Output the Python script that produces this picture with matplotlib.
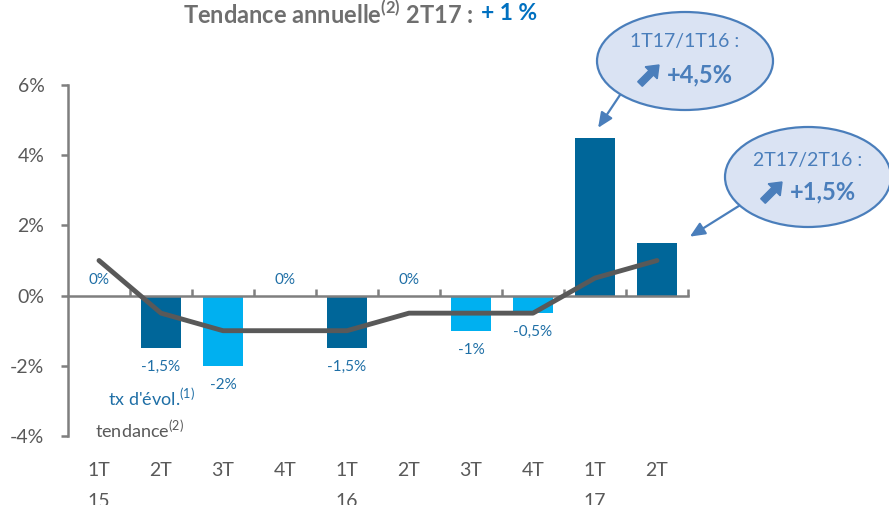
import matplotlib
matplotlib.use("Agg")
import matplotlib.pyplot as plt
from matplotlib.patches import Ellipse, FancyArrow

plt.rcParams['font.family'] = ['Lato', 'DejaVu Sans']
plt.rcParams['mathtext.fontset'] = 'custom'
plt.rcParams['mathtext.rm'] = 'Lato'
plt.rcParams['mathtext.bf'] = 'Lato:bold'

# données
quarters = ["1T\n15", "2T", "3T", "4T", "1T\n16", "2T", "3T", "4T", "1T\n17", "2T"]
evol = [0, -1.5, -2, 0, -1.5, 0, -1, -0.5, 4.5, 1.5]
tendance = [1, -0.5, -1, -1, -1, -0.5, -0.5, -0.5, 0.5, 1]
yticks = [-4, -2, 0, 2, 4, 6]

DARK = '#006699'
LIGHT = '#00b0f0'
GREY = '#595959'
AXGREY = '#7f7f7f'
LBL = '#1f6fa6'
CALL = '#4a7ebb'

fig = plt.figure(figsize=(8.89, 5.05), dpi=100)
W, H = 889.0, 505.0
ax = fig.add_axes([68 / W, 1 - 436 / H, 620 / W, 351 / H])

x = list(range(len(evol)))
colors = [DARK if q.startswith(("1T", "2T")) else LIGHT for q in quarters]
ax.bar(x, evol, width=0.66, color=colors, zorder=2)
ax.plot(x, tendance, color=GREY, lw=3.5, solid_capstyle='round',
        solid_joinstyle='round', zorder=3)

ax.set_xlim(-0.5, 9.5)
ax.set_ylim(-4, 6)

for s in ['top', 'right']:
    ax.spines[s].set_visible(False)
ax.spines['bottom'].set_position(('data', 0))
for s in ['bottom', 'left']:
    ax.spines[s].set_color(AXGREY)
    ax.spines[s].set_linewidth(1.8)

ax.set_yticks(yticks)
ax.set_yticklabels([f"{v}%" for v in yticks])
ax.tick_params(axis='y', direction='out', length=5, width=1.8, color=AXGREY,
               labelcolor=GREY, labelsize=14, pad=12)
ax.set_xticks([i + 0.5 for i in x])
ax.set_xticklabels([])
ax.tick_params(axis='x', direction='in', length=5, width=1.8, color=AXGREY)

# libellés des trimestres
for i, q in enumerate(quarters):
    ax.text(i, -0.075, q, transform=ax.get_xaxis_transform(), ha='center',
            va='top', fontsize=14, color=GREY, linespacing=2.0)

# étiquettes de valeurs
for i, v in enumerate(evol):
    if v > 0:
        continue
    txt = f"{v:g}".replace('.', ',') + '%'
    off = 16 if v == 0 else -19
    ax.annotate(txt, (i, v), xytext=(0, off), textcoords='offset pixels',
                ha='center', va='center', fontsize=11, color=LBL)

# légende
fig.text(108 / W, 1 - 398 / H, r"tx d'évol.$^{\mathregular{(1)}}$", fontsize=13,
         color=LBL, va='center', ha='left')
fig.text(95 / W, 1 - 430 / H, r"tendance$^{\mathregular{(2)}}$", fontsize=13,
         color=GREY, va='center', ha='left')

# titre
fig.text(474 / W, 1 - 14 / H, r"Tendance annuelle$^{\mathbf{(2)}}$ 2T17 :",
         fontsize=17, fontweight='bold', color='#6f6f6f', ha='right', va='center')
fig.text(481 / W, 1 - 14 / H, "+ 1 %", fontsize=16.5, fontweight='bold',
         color='#0070c0', ha='left', va='center')


def up_arrow(cx, cy):
    # flèche épaisse nord-est, coordonnées en pixels (y vers le bas)
    x0, y0 = (cx - 9) / 100, (H - (cy + 9)) / 100
    fig.patches.append(FancyArrow(x0, y0, 0.19, 0.19, width=0.065,
                                  head_width=0.17, head_length=0.11,
                                  length_includes_head=True, color=CALL,
                                  transform=fig.dpi_scale_trans, zorder=6))


# bulles
bubbles = [
    (685, 61, 176, 98, -19, 14, "1T17/1T16 :", "+4,5%", 8, (620, 95), (0.05, 0.28)),
    (808, 177, 166, 100, -17, 15, "2T17/2T16 :", "+1,5%", 9, (742, 204), (0.53, 0.18)),
]
for cx, cy, bw, bh, d1, d2, l1, l2, idx, start, d in bubbles:
    e = Ellipse((cx / W, 1 - cy / H), bw / W, bh / H, transform=fig.transFigure,
                facecolor='#dae3f3', edgecolor=CALL, lw=1.6, zorder=5)
    fig.patches.append(e)
    fig.text(cx / W, 1 - (cy + d1) / H, l1, fontsize=14, color=CALL,
             ha='center', va='center', zorder=6)
    up_arrow(cx - 36, cy + d2)
    fig.text((cx - 18) / W, 1 - (cy + d2) / H, l2, fontsize=17, fontweight='bold',
             color=CALL, ha='left', va='center', zorder=6)
    ax.annotate("", xy=(idx + d[0], evol[idx] + d[1]),
                xytext=(start[0] / W, 1 - start[1] / H),
                textcoords='figure fraction',
                arrowprops=dict(arrowstyle='-|>,head_length=0.9,head_width=0.4',
                                color=CALL, lw=1.6, shrinkA=0, shrinkB=0),
                annotation_clip=False)

fig.savefig("out.png", dpi=100)
